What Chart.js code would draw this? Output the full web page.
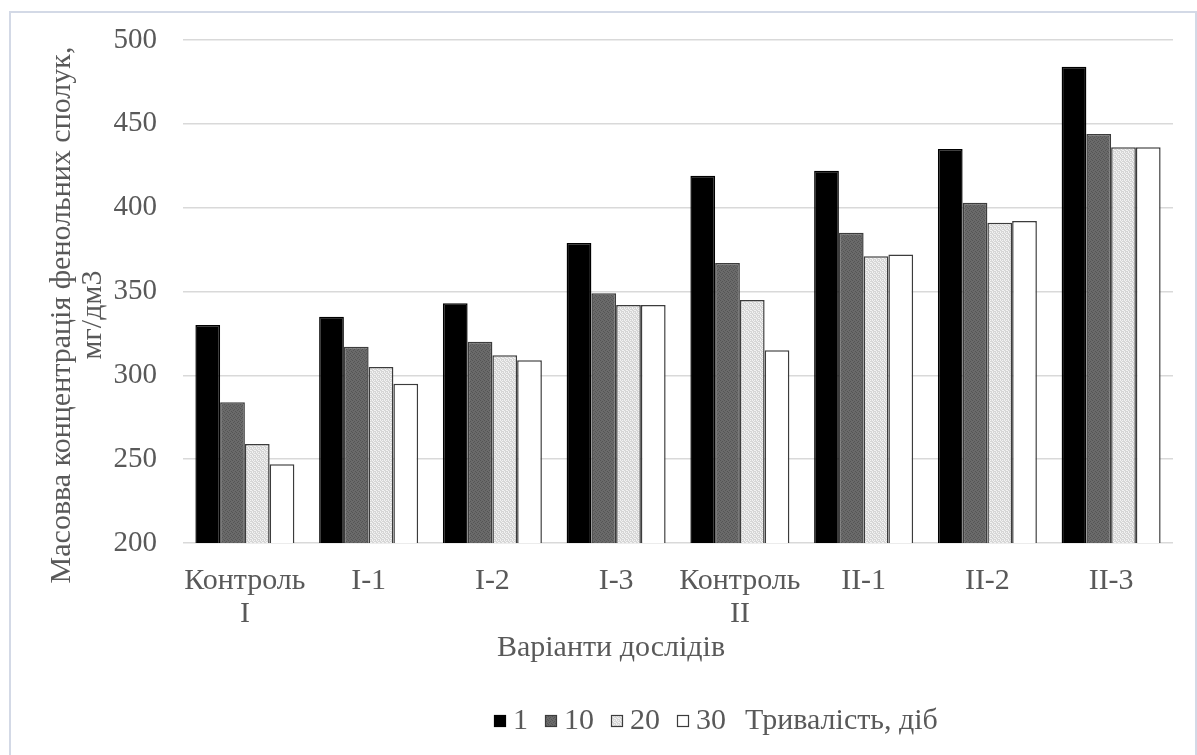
<!DOCTYPE html>
<html>
<head>
<meta charset="utf-8">
<script src="https://cdn.jsdelivr.net/npm/chart.js@4.4.1/dist/chart.umd.min.js"></script>
<style>
  html, body { margin: 0; padding: 0; background: #ffffff; }
  #wrap { position: relative; width: 1197px; height: 755px; overflow: hidden; }
  #frame { position: absolute; left: 9px; top: 11px; width: 1188px; height: 760px;
           border: 2px solid #d3d9e6; box-sizing: border-box; pointer-events: none; }
  canvas { position: absolute; left: 0; top: 0; }
</style>
</head>
<body>
<div id="wrap">
  <canvas id="chart" width="1197" height="755"></canvas>
  <div id="frame"></div>
</div>
<script>
// Experimental variants (x categories)
const categories = [['Контроль', 'I'], 'I-1', 'I-2', 'I-3', ['Контроль', 'II'], 'II-1', 'II-2', 'II-3'];
// Duration of the experiment, days (series names)
const seriesNames = ['1', '10', '20', '30'];
// Mass concentration of phenolic compounds, mg/dm3
const day1 = [330, 335, 343, 379, 419, 422, 435, 484];
const day10 = [284, 317, 320, 349, 367, 385, 403, 444];
const day20 = [259, 305, 312, 342, 345, 371, 391, 436];
const day30 = [247, 295, 309, 342, 315, 372, 392, 436];
// Value axis ticks
const yMin = 200, yMax = 500, yStep = 50;

const yTitle = ['Масовва концентрація фенольних сполук,', 'мг/дм3'];
const xTitle = 'Варіанти дослідів';
const legendTitle = 'Тривалість, діб';

const textColor = '#595959';
const fontFamily = '"Liberation Serif", "Times New Roman", serif';

// Small dithered fills for the grey bars
function dotted(base, dot, cells) {
  const c = document.createElement('canvas');
  c.width = 4; c.height = 4;
  const g = c.getContext('2d');
  g.fillStyle = base; g.fillRect(0, 0, 4, 4);
  g.fillStyle = dot;
  cells.forEach(([x, y]) => g.fillRect(x, y, 1, 1));
  return g.createPattern(c, 'repeat');
}
const ctx = document.getElementById('chart').getContext('2d');
const fill10 = dotted('#6a6a6a', '#555555', [[0, 0], [2, 1], [1, 2], [3, 3]]);
const fill20 = dotted('#d6d6d6', '#f2f2f2', [[0, 0], [2, 0], [1, 1], [3, 2], [0, 3], [2, 2]]);

const fills = ['#000000', fill10, fill20, '#ffffff'];
const borders = ['#000000', '#3c3c3c', '#3c3c3c', '#3c3c3c'];
const values = [day1, day10, day20, day30];

// Axis titles and the legend row (boxes + series names + caption)
const extraText = {
  id: 'extraText',
  afterDraw(chart) {
    const c = chart.ctx;
    const textFont = Chart.helpers.toFont({ family: fontFamily, size: 30 }).string;
    c.save();
    c.fillStyle = textColor;
    c.font = textFont;
    c.textAlign = 'center';
    c.textBaseline = 'middle';

    // value-axis title, two lines, rotated
    c.save();
    c.translate(62, 315);
    c.rotate(-Math.PI / 2);
    c.fillText(yTitle[0], 0, 0);
    c.fillText(yTitle[1], 0, 31);
    c.restore();

    // category-axis title
    c.font = textFont;
    c.fillText(xTitle, 611, 648);

    // legend
    const box = 12, y = 721;
    let x = 494;
    c.textAlign = 'left';
    chart.data.datasets.forEach((ds) => {
      c.fillStyle = ds.backgroundColor;
      c.fillRect(x, y - box / 2, box, box);
      c.strokeStyle = ds.borderColor;
      c.lineWidth = 1.2;
      c.strokeRect(x + 0.5, y - box / 2 + 0.5, box - 1, box - 1);
      x += box + 7;
      c.fillStyle = textColor;
      c.font = textFont;
      c.fillText(ds.label, x, y);
      x += c.measureText(ds.label).width + 17;
    });
    c.fillText(legendTitle, x + 2, y);
    c.restore();
  }
};

new Chart(ctx, {
  type: 'bar',
  data: {
    labels: categories,
    datasets: seriesNames.map((name, i) => ({
      label: name,
      data: values[i],
      backgroundColor: fills[i],
      borderColor: borders[i],
      borderWidth: 1.5,
      categoryPercentage: 0.8,
      barPercentage: 1.0
    }))
  },
  options: {
    responsive: false,
    animation: false,
    devicePixelRatio: 1,
    layout: { padding: { left: 0, right: 24, top: 40, bottom: 0 } },
    scales: {
      x: {
        grid: { display: false, drawTicks: false },
        border: { display: false },
        ticks: {
          color: textColor,
          font: { family: fontFamily, size: 30, lineHeight: 1.1 },
          padding: 22,
          maxRotation: 0,
          autoSkip: false
        },
        afterFit(scale) { scale.height = 212; }
      },
      y: {
        min: yMin,
        max: yMax,
        grid: { color: '#d9d9d9', lineWidth: 1.5, drawTicks: false },
        border: { display: false },
        ticks: {
          stepSize: yStep,
          color: textColor,
          font: { family: fontFamily, size: 29 },
          padding: 26
        },
        afterFit(scale) {
          scale.width = 183;
          scale.paddingTop = 0;
          scale.paddingBottom = 0;
        }
      }
    },
    plugins: {
      legend: { display: false },
      tooltip: { enabled: false }
    }
  },
  plugins: [extraText]
});
</script>
</body>
</html>
